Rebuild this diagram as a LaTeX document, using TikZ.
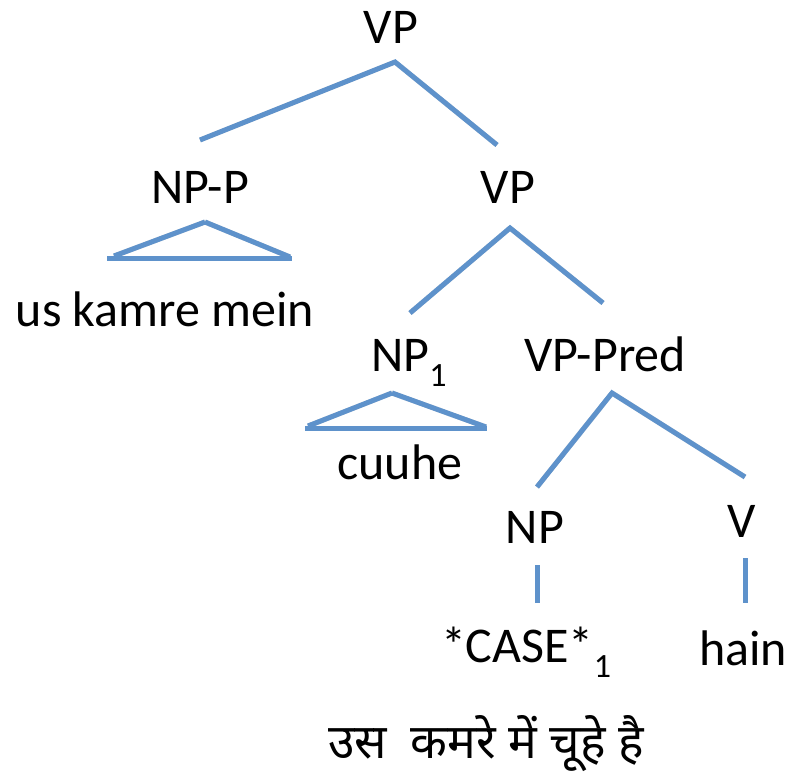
\documentclass[tikz,border=0pt]{standalone}
\usepackage{fontspec}
\setmainfont{Carlito}
\newfontfamily\devfont[Script=Devanagari]{Noto Sans}
\definecolor{branch}{RGB}{94,146,203}
\begin{document}
\begin{tikzpicture}[x=1pt,y=-1pt,
  lbl/.style={anchor=base,inner sep=0pt,font=\fontsize{50}{60}\selectfont},
  edge/.style={draw=branch,line width=5pt},
  shade/.style={draw=black,opacity=0.16,line width=5pt,shift={(1.5,2.5)}}]
\useasboundingbox (0,0) rectangle (791,774);

% labels
\node[lbl] (vp0)   at (391,43)  {VP};
\node[lbl] (npp)   at (200,203) {NP-P};
\node[lbl] (vp1)   at (508,203) {VP};
\node[lbl] (usk)   at (165,326) {us kamre mein};
\node[lbl] (np1)   at (409,371) {NP\raisebox{-0.3em}{\fontsize{34}{34}\selectfont 1}};
\node[lbl] (vpp)   at (605,371) {VP-Pred};
\node[lbl] (cuuhe) at (400,479) {cuuhe};
\node[lbl] (np2)   at (535,543) {NP};
\node[lbl] (v)     at (742,537) {V};
\node[lbl] (case)  at (526,662) {*CASE*\raisebox{-0.3em}{\fontsize{34}{34}\selectfont 1}};
\node[lbl] (hain)  at (743,665) {hain};
\node[lbl,font=\devfont\fontsize{48}{56}\selectfont] (hindi) at (486,758)
  {उस\hspace{0.5em}कमरे में चूहे है};

% branch end points
\coordinate (a0) at (395,62);
\coordinate (a0l) at (200,140);
\coordinate (a0r) at (497,145);
\coordinate (a1) at (510,228);
\coordinate (a1l) at (410,313);
\coordinate (a1r) at (603,303);
\coordinate (a2) at (612,393);
\coordinate (a2l) at (537,487);
\coordinate (a2r) at (745,477);
\coordinate (s1t) at (537,565);
\coordinate (s1b) at (537,603);
\coordinate (s2t) at (745,558);
\coordinate (s2b) at (745,603);
\coordinate (t1a) at (205,222);
\coordinate (t1l) at (107,258);
\coordinate (t1r) at (292,258);
\coordinate (t1lx) at (114,256);
\coordinate (t1rx) at (290,257);
\coordinate (t2a) at (392,393);
\coordinate (t2l) at (305,428);
\coordinate (t2r) at (487,428);
\coordinate (t2lx) at (308,426);
\coordinate (t2rx) at (486,427);

% soft shadows under the branches
\foreach \p/\q in {a0/a0l,a0/a0r,a1/a1l,a1/a1r,a2/a2l,a2/a2r,s1t/s1b,s2t/s2b,
                   t1l/t1r,t1lx/t1a,t1a/t1rx,t2l/t2r,t2lx/t2a,t2a/t2rx}
  \draw[shade] (\p) -- (\q);

% branches
\draw[edge] (a0l) -- (a0) -- (a0r);
\draw[edge] (a1l) -- (a1) -- (a1r);
\draw[edge] (a2l) -- (a2) -- (a2r);
\draw[edge] (s1t) -- (s1b);
\draw[edge] (s2t) -- (s2b);
% summary triangles: base plus two separate sides
\draw[edge] (t1l) -- (t1r);
\draw[edge] (t1lx) -- (t1a);
\draw[edge] (t1a) -- (t1rx);
\draw[edge] (t2l) -- (t2r);
\draw[edge] (t2lx) -- (t2a);
\draw[edge] (t2a) -- (t2rx);
\end{tikzpicture}
\end{document}
